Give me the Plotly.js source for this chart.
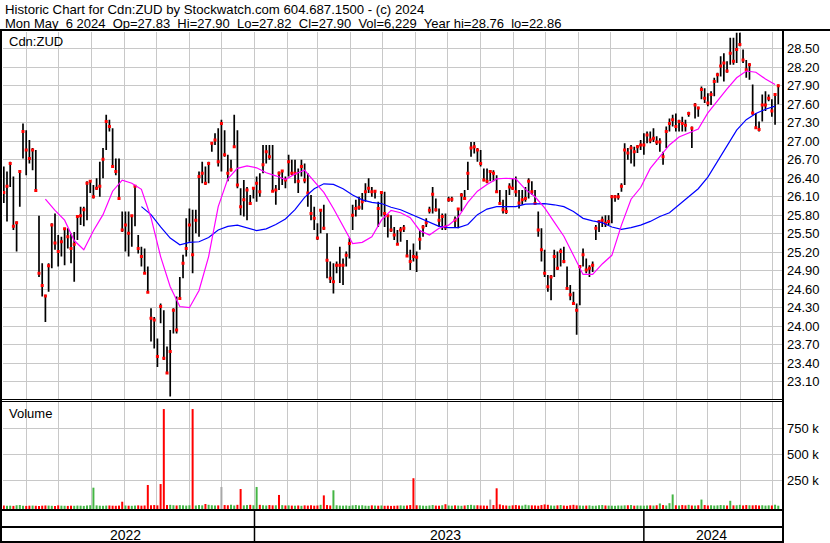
<!DOCTYPE html>
<html><head><meta charset="utf-8">
<script src="https://cdn.plot.ly/plotly-3.0.1.min.js"></script>
<style>html,body{margin:0;padding:0;background:#fff;overflow:hidden}#chart{width:830px;height:543px}</style>
</head><body><div id="chart"></div>
<script>
// ---- data (one bar per 3 calendar days) ----
const startDate = '2022-05-11';
const stepDays = 3;
const high = [
26.59,26.51,26.67,26.43,25.70,26.51,27.29,27.18,27.02,26.89,
26.86,25.79,25.02,24.51,25.02,25.67,25.83,25.48,25.45,25.59,
25.59,25.51,25.53,25.80,25.94,25.94,26.35,26.37,26.29,26.40,
26.67,26.89,27.43,27.35,27.21,26.72,26.72,25.86,25.86,25.86,
25.80,26.29,25.48,25.29,25.26,24.97,24.29,24.15,23.80,24.37,
24.26,23.67,23.94,24.29,24.48,24.80,25.16,25.75,25.91,25.89,
25.89,26.51,26.67,26.59,26.67,26.99,27.13,27.21,27.35,27.18,
26.78,26.70,27.43,27.18,26.24,26.37,26.26,26.13,26.26,26.43,
26.48,26.94,26.94,26.94,26.94,26.29,26.51,26.53,26.43,26.78,
26.70,26.70,26.56,26.70,26.64,26.48,26.13,25.94,25.67,25.88,
25.97,25.51,25.05,25.02,25.05,25.29,25.10,25.21,25.43,25.97,
26.05,26.10,26.16,26.32,26.40,26.26,26.21,26.02,26.18,26.18,
25.80,25.80,25.61,25.56,25.61,25.64,25.40,25.24,25.34,25.21,
25.56,25.64,25.75,25.94,26.26,26.07,25.91,25.83,25.83,26.10,
26.10,25.78,25.91,26.16,26.21,26.67,26.99,26.99,26.89,26.86,
26.56,26.56,26.53,26.53,26.45,26.21,26.05,26.21,26.32,26.40,
26.43,26.21,26.21,26.26,26.40,26.35,26.21,25.86,25.59,25.24,
24.83,24.83,25.24,25.21,25.26,25.29,24.97,24.67,24.56,24.37,
24.97,25.26,25.10,24.99,25.05,25.64,25.72,25.78,25.80,25.80,
26.13,26.13,26.16,26.32,26.97,26.89,26.94,26.91,26.94,27.02,
27.13,27.16,27.16,27.21,27.08,27.05,26.83,27.24,27.37,27.43,
27.45,27.35,27.40,27.35,27.48,27.24,27.62,27.56,27.89,27.86,
27.78,27.81,28.03,28.11,28.38,28.43,28.30,28.68,28.68,28.76,
28.76,28.49,28.32,28.27,27.92,27.46,27.32,27.76,27.81,27.76,
27.68,27.78,27.92];
const low = [
26.00,25.70,26.26,25.56,25.21,25.94,26.72,26.45,26.64,26.53,
26.18,24.80,24.48,24.07,24.56,24.94,25.24,24.97,25.13,24.99,
25.26,25.02,24.72,25.40,25.64,25.62,25.72,26.16,26.07,26.21,
26.10,26.40,26.86,27.16,26.59,26.45,26.05,25.53,25.21,25.13,
25.29,25.62,25.18,24.97,24.86,24.54,23.75,23.64,23.34,24.05,
23.45,23.24,22.86,23.88,23.88,24.43,24.78,25.13,25.37,24.86,
25.51,25.45,26.32,26.29,26.32,26.83,26.94,26.59,26.51,26.75,
26.35,26.51,26.91,26.24,25.80,25.78,25.72,25.97,26.07,26.02,
26.10,26.48,26.64,26.70,26.19,25.97,26.21,26.29,26.24,26.43,
26.45,26.32,26.16,26.43,26.32,25.94,25.72,25.56,25.40,25.51,
25.56,24.78,24.70,24.53,24.86,24.70,24.67,24.97,25.10,25.56,
25.78,25.89,25.89,26.02,26.16,26.10,26.07,25.61,25.78,25.61,
25.44,25.53,25.40,25.32,25.37,25.53,25.13,24.91,25.05,24.88,
25.24,25.45,25.61,25.83,25.83,25.86,25.61,25.56,25.56,26.02,
26.02,25.61,25.59,25.86,26.05,26.21,26.75,26.80,26.67,26.59,
26.35,26.32,26.35,26.35,26.16,25.99,25.83,25.82,26.13,26.21,
26.10,25.91,25.97,26.02,26.07,26.13,25.97,25.45,25.05,24.80,
24.56,24.42,24.80,24.91,24.97,25.02,24.59,24.42,24.37,23.86,
24.34,24.97,24.86,24.80,24.88,25.40,25.53,25.61,25.61,25.64,
25.67,26.02,26.05,26.18,26.29,26.70,26.64,26.59,26.81,26.86,
26.78,26.97,26.97,26.99,26.94,26.83,26.62,26.89,27.16,27.24,
27.16,27.16,27.16,27.16,27.40,26.89,27.37,27.40,27.68,27.62,
27.57,27.59,27.73,27.95,28.05,27.97,28.11,28.24,28.24,28.27,
28.54,28.27,28.03,28.00,27.43,27.22,27.16,27.32,27.49,27.65,
27.40,27.27,27.60];
const close = [
26.17,26.27,26.64,25.62,25.68,26.51,27.16,26.86,26.72,26.86,
26.20,24.86,24.66,24.49,24.98,25.64,25.35,25.21,25.37,25.58,
25.45,25.26,25.33,25.78,25.79,25.89,26.32,26.35,26.10,26.24,
26.27,26.71,27.32,27.24,26.59,26.51,26.07,25.56,25.64,25.51,
25.79,26.27,25.26,25.13,24.86,24.55,24.13,24.10,23.51,24.32,
23.48,23.24,23.59,24.26,23.94,24.45,25.02,25.26,25.64,25.16,
25.72,26.43,26.48,26.32,26.64,26.97,27.02,26.67,27.29,26.78,
26.48,26.54,26.91,26.29,25.94,26.05,26.21,25.99,26.24,26.32,
26.18,26.62,26.83,26.75,26.19,26.21,26.48,26.52,26.37,26.67,
26.48,26.48,26.35,26.59,26.37,26.16,25.83,25.75,25.43,25.88,
25.59,25.07,24.78,24.72,24.99,24.99,24.99,25.15,25.34,25.80,
25.91,25.93,26.02,26.18,26.24,26.18,26.19,25.91,26.17,25.83,
25.79,25.56,25.48,25.33,25.56,25.59,25.14,25.05,25.13,25.12,
25.41,25.61,25.68,25.88,26.14,25.89,25.72,25.78,25.61,26.05,
26.06,25.72,25.90,26.13,26.07,26.48,26.89,26.91,26.86,26.64,
26.37,26.35,26.51,26.48,26.18,25.99,25.89,25.86,26.26,26.24,
26.18,26.00,26.05,26.07,26.35,26.18,25.99,25.56,25.24,24.86,
24.64,24.80,25.13,24.94,25.21,25.05,24.61,24.51,24.37,24.26,
24.97,25.16,24.91,24.94,24.99,25.59,25.70,25.72,25.67,25.70,
26.10,26.10,26.10,26.27,26.86,26.81,26.89,26.83,26.91,26.94,
26.94,27.10,27.02,27.05,26.99,26.99,26.75,27.16,27.29,27.35,
27.24,27.32,27.29,27.26,27.45,27.21,27.59,27.54,27.84,27.70,
27.62,27.76,27.97,28.08,28.22,28.27,28.14,28.43,28.30,28.49,
28.57,28.32,28.16,28.24,27.46,27.22,27.19,27.59,27.59,27.70,
27.49,27.76,27.90];
// volume in thousands of shares
const volK = [
8,5,6,4,10,12,5,4,6,7,
5,4,6,8,7,5,4,9,6,5,
4,6,5,7,6,4,8,10,179,9,
6,5,7,8,6,5,7,44,8,6,
5,7,9,6,8,205,10,12,9,214,
935,12,14,10,8,11,9,7,10,935,
8,12,9,22,14,10,8,9,186,12,
10,15,8,14,166,9,12,14,10,186,
14,10,8,12,9,10,109,11,8,9,
7,6,8,5,9,7,10,6,8,14,
105,12,8,154,10,7,6,8,5,9,
12,8,10,6,5,9,7,6,8,5,
6,4,5,7,9,6,8,12,270,10,
9,6,5,8,12,7,6,10,20,8,
6,9,7,5,8,12,14,9,10,8,
7,6,65,12,173,18,10,8,6,9,
12,8,7,15,10,9,8,6,12,18,
14,8,6,9,12,7,5,10,14,9,
8,6,7,9,5,6,10,12,8,7,
6,5,8,7,9,10,12,6,8,7,
6,8,9,7,10,27,12,8,30,114,
10,8,12,9,14,8,7,10,65,12,
8,10,7,9,12,10,8,53,9,10,
14,8,12,10,9,11,8,10,7,9,
8,15,6];
// volume bars whose colour differs from the close-to-close direction
const volColorFix = [[28,'g'],[49,'r'],[50,'r'],[59,'r'],[68,'n'],[86,'r'],[103,'g'],[128,'r'],[152,'n']];
// moving averages, sampled every 3rd bar
const maStep = 3;
const maFastStart = 13;
const maFast = [
26.06,25.88,25.72,25.39,25.24,25.55,25.81,26.19,26.37,26.32,26.22,25.76,25.13,24.64,24.32,24.30,24.58,25.13,25.94,26.39,26.56,26.60,
26.57,26.49,26.44,26.38,26.47,26.53,26.35,26.17,25.91,
25.63,25.34,25.36,25.45,25.72,25.88,25.84,25.76,25.55,25.48,
25.59,25.64,25.77,26.01,26.19,26.30,26.39,26.40,26.39,
26.22,26.10,25.92,25.69,25.46,25.15,24.84,24.84,25.01,
25.15,25.64,26.06,26.25,26.56,26.75,26.94,27.07,27.14,27.20,
27.46,27.66,27.85,28.03,28.14,28.12,28.01,27.92];
const maSlowStart = 43;
const maSlow = [
25.94,25.81,25.61,25.43,25.32,25.36,25.37,25.44,25.56,25.62,25.64,25.59,
25.55,25.58,25.65,25.74,25.89,26.09,26.23,26.31,26.30,
26.23,26.13,26.05,26.01,25.99,25.93,25.89,25.82,25.75,25.68,
25.62,25.60,25.60,25.65,25.81,25.90,25.94,25.94,25.94,
25.98,25.99,25.99,25.97,25.94,25.86,25.75,25.71,25.68,
25.61,25.57,25.60,25.64,25.70,25.78,25.84,25.97,26.10,26.23,
26.42,26.67,26.93,27.18,27.35,27.45,27.52,27.57];
const priceTicks = [23.10,23.40,23.70,24.00,24.30,24.60,24.90,25.20,25.50,25.80,26.10,26.40,26.70,27.00,27.30,27.60,27.90,28.20,28.50];
const volTicks = [250000,500000,750000];
const volTickText = ['250 k','500 k','750 k'];
const yearLabels = [['2022','2022-09-02'],['2023','2023-06-29'],['2024','2024-03-04']];
const yearBreaks = ['2023-01-01','2024-01-01'];
const header1 = 'Historic Chart for Cdn:ZUD by Stockwatch.com 604.687.1500 - (c) 2024';
const header2 = 'Mon May\u00a0\u00a06 2024\u00a0\u00a0Op=27.83\u00a0\u00a0Hi=27.90\u00a0\u00a0Lo=27.82\u00a0\u00a0Cl=27.90\u00a0\u00a0Vol=6,229\u00a0\u00a0Year hi=28.76\u00a0\u00a0lo=22.86';

// ---- build ----
const W = 830, H = 543;
const px = x => x / W, py = y => 1 - y / H;
const [sy, sm, sd] = startDate.split('-').map(Number);
const t0 = Date.UTC(sy, sm - 1, sd);
const dateAt = i => new Date(t0 + i * stepDays * 86400000).toISOString().slice(0, 10);
const dates = close.map((_, i) => dateAt(i));

const barX = [], barY = [];
dates.forEach((d, i) => { barX.push(d, d, null); barY.push(low[i], high[i], null); });

const volBase = -26000;
const dir = close.map((c, i) => (i === 0 ? 'r' : (c >= close[i - 1] ? 'g' : 'r')));
volColorFix.forEach(([i, c]) => { dir[i] = c; });
const volSeg = { r: { x: [], y: [] }, g: { x: [], y: [] }, n: { x: [], y: [] } };
dates.forEach((d, i) => { const s = volSeg[dir[i]]; s.x.push(d, d, null); s.y.push(volBase, volK[i] * 1000, null); });
const volColors = { r: '#ff0000', g: '#44b544', n: '#a8a8a8' };

const maFastX = maFast.map((_, k) => dateAt(maFastStart + k * maStep));
const maSlowX = maSlow.map((_, k) => dateAt(maSlowStart + k * maStep));

const traces = [];
['r', 'g', 'n'].forEach(c => traces.push({ type: 'scatter', mode: 'lines', x: volSeg[c].x, y: volSeg[c].y, xaxis: 'x2', yaxis: 'y2', line: { color: volColors[c], width: 2 }, connectgaps: false, hoverinfo: 'skip' }));
traces.push({ type: 'scatter', mode: 'lines', x: barX, y: barY, line: { color: '#000', width: 1.7 }, connectgaps: false, hoverinfo: 'skip' });
traces.push({ type: 'scatter', mode: 'markers', x: dates, y: close, marker: { symbol: 'square', size: 3, color: '#ff0000', line: { width: 0 } }, hoverinfo: 'skip' });
traces.push({ type: 'scatter', mode: 'lines', x: maSlowX, y: maSlow, line: { color: '#0000ff', width: 1.2 }, hoverinfo: 'skip' });
traces.push({ type: 'scatter', mode: 'lines', x: maFastX, y: maFast, line: { color: '#ff00ff', width: 1.2 }, hoverinfo: 'skip' });

const FONT = 'Liberation Sans, Arial, sans-serif';
const TXT = '#000';
const xCommon = {
  type: 'date', range: ['2022-05-10 06:00', '2024-05-09 12:00'], domain: [px(3), px(782)],
  showgrid: true, gridcolor: '#c8c8c8', gridwidth: 1, dtick: 'M1', tick0: '2022-06-01',
  showticklabels: false, ticks: '', showline: false, zeroline: false, fixedrange: true
};
const yFont = { family: FONT, size: 13, color: TXT };

const line = (x0, y0, x1, y1, w) => ({ type: 'line', xref: 'paper', yref: 'paper', x0: px(x0), y0: py(y0), x1: px(x1), y1: py(y1), line: { color: '#000', width: w }, layer: 'above' });
const shapes = [
  line(0, 30, 830, 30, 2),
  line(1, 29, 1, 543, 2),
  line(783, 29, 783, 543, 2),
  line(0, 399.5, 782, 399.5, 1),
  line(0, 401.5, 782, 401.5, 1),
  line(0, 510, 782, 510, 2),
  line(0, 527, 782, 527, 2),
  line(0, 542, 782, 542, 2)
];
yearBreaks.forEach(d => shapes.push({ type: 'line', xref: 'x', yref: 'paper', x0: d, x1: d, y0: py(510), y1: py(541), line: { color: '#000', width: 1.5 }, layer: 'above' }));

const ann = (text, x, y, size, extra) => Object.assign({ text, xref: 'paper', yref: 'paper', x: px(x), y: py(y), xanchor: 'left', yanchor: 'middle', showarrow: false, font: { family: FONT, size, color: TXT } }, extra || {});
const annotations = [
  ann(header1, 3, 10, 13.2),
  ann(header2, 3, 23.5, 13),
  ann('Cdn:ZUD', 6.5, 41.5, 13),
  ann('Volume', 6.5, 413.5, 13)
];
yearLabels.forEach(([t, d]) => annotations.push({ text: t, xref: 'x', yref: 'paper', x: d, y: py(535), xanchor: 'center', yanchor: 'middle', showarrow: false, font: { family: FONT, size: 14, color: TXT } }));

const layout = {
  width: W, height: H, margin: { l: 0, r: 0, t: 0, b: 0 },
  paper_bgcolor: '#fff', plot_bgcolor: '#fff', showlegend: false,
  xaxis: Object.assign({}, xCommon, { anchor: 'y' }),
  xaxis2: Object.assign({}, xCommon, { anchor: 'y2', matches: 'x' }),
  yaxis: {
    domain: [py(399.5), py(32)], range: [22.811, 28.773], side: 'right',
    tickvals: priceTicks, ticktext: priceTicks.map(v => v.toFixed(2)), tickfont: yFont,
    showgrid: true, gridcolor: '#c8c8c8', gridwidth: 1, ticks: '', ticklabelstandoff: 4,
    showline: false, zeroline: false, fixedrange: true
  },
  yaxis2: {
    domain: [py(510), py(402)], range: [-35600, 1002800], side: 'right',
    tickvals: volTicks, ticktext: volTickText, tickfont: yFont,
    showgrid: true, gridcolor: '#c8c8c8', gridwidth: 1, ticks: '', ticklabelstandoff: 4,
    showline: false, zeroline: false, fixedrange: true
  },
  shapes, annotations
};
Plotly.newPlot('chart', traces, layout, { staticPlot: true, displayModeBar: false });
</script>
</body></html>
